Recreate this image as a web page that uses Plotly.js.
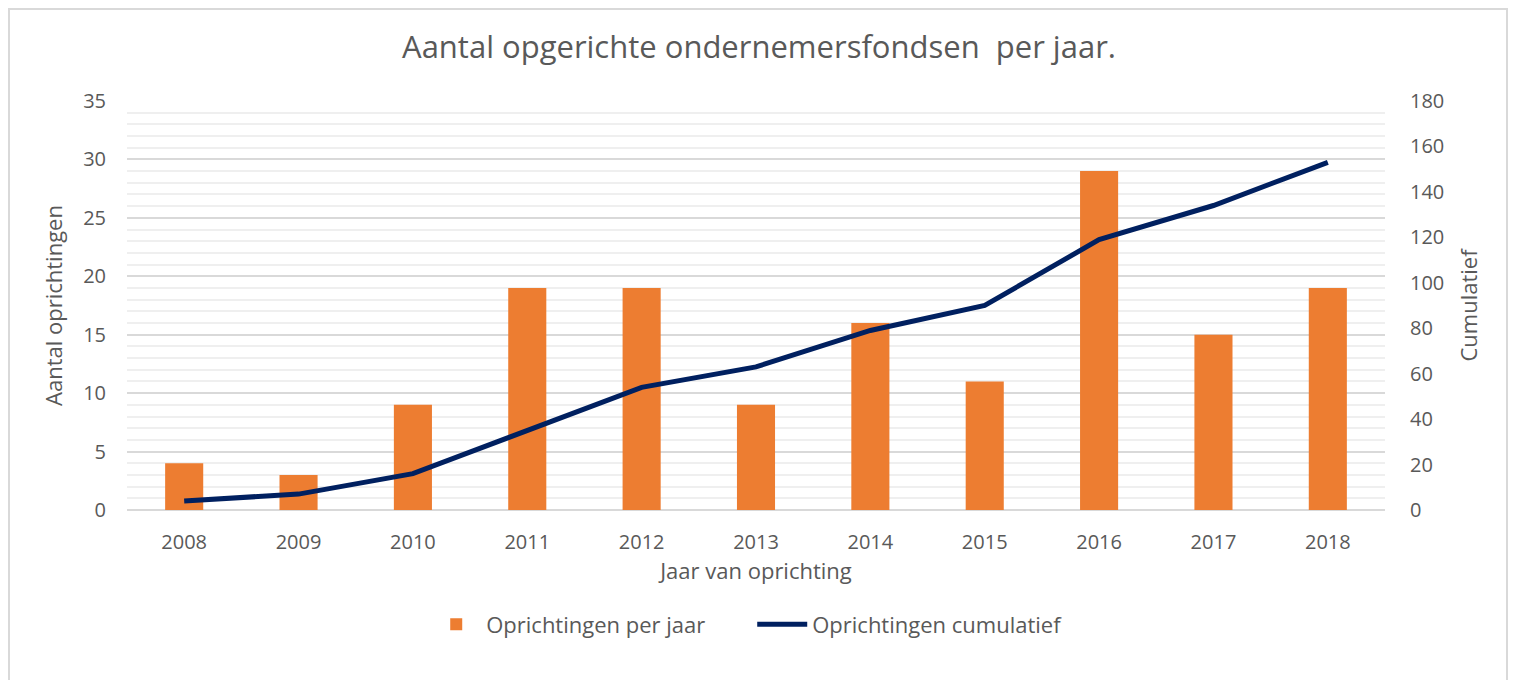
<!DOCTYPE html>
<html><head><meta charset="utf-8">
<script src="https://cdn.plot.ly/plotly-3.0.1.min.js"></script>
<style>
body{margin:0;background:#fff;}
#wrap{position:relative;width:1518px;height:680px;}
#chart{width:1518px;height:680px;}
#frame{position:absolute;left:8px;top:8px;width:1500px;height:680px;border:2px solid #d9d9d9;pointer-events:none;box-sizing:border-box;}
</style></head>
<body><div id="wrap"><div id="chart"></div><div id="frame"></div></div>
<script>
const years = ['2008','2009','2010','2011','2012','2013','2014','2015','2016','2017','2018'];
const perYear = [4,3,9,19,19,9,16,11,29,15,19];
const cumulative = [4,7,16,35,54,63,79,90,119,134,153];
const font = 'Open Sans, sans-serif';
const grey = '#595959';
const data = [
 {type:'bar', x:years, y:perYear, name:'Oprichtingen per jaar', marker:{color:'#ED7D31'}, yaxis:'y'},
 {type:'scatter', mode:'lines', x:years, y:cumulative, name:'Oprichtingen cumulatief', line:{color:'#002060', width:5}, yaxis:'y2'}
];
const layout = {
 width:1518, height:680,
 margin:{l:127, r:133, t:101, b:170},
 paper_bgcolor:'#fff', plot_bgcolor:'#fff',
 font:{family:font, color:grey, size:20},
 title:{text:'Aantal opgerichte ondernemersfondsen  per jaar.', font:{size:31, color:grey, family:font}, x:0.5, xanchor:'center', y:0.93, yanchor:'middle'},
 bargap:0.667,
 showlegend:true,
 legend:{orientation:'h', x:0.497, xanchor:'center', y:-0.28, yanchor:'middle', font:{size:22, color:grey}, itemwidth:50, entrywidth:261},
 xaxis:{type:'category', showgrid:false, showline:false, ticks:'', tickfont:{size:20, color:grey}, ticklabelstandoff:18,
   title:{text:'Jaar van oprichting', font:{size:22, color:grey}, standoff:4}},
 yaxis:{range:[0,35], dtick:5, showgrid:true, gridcolor:'#d9d9d9', gridwidth:2, zeroline:true, zerolinecolor:'#d9d9d9', zerolinewidth:2,
   minor:{dtick:1, showgrid:true, gridcolor:'#efefef', gridwidth:2},
   showline:false, ticks:'', tickfont:{size:20, color:grey}, ticklabelstandoff:20,
   title:{text:'Aantal oprichtingen', font:{size:22, color:grey}, standoff:14}},
 yaxis2:{overlaying:'y', side:'right', range:[0,180], dtick:20, showgrid:false, zeroline:false, showline:false, ticks:'',
   tickfont:{size:20, color:grey}, ticklabelstandoff:24,
   title:{text:'Cumulatief', font:{size:22, color:grey}, standoff:18}}
};
Plotly.newPlot('chart', data, layout, {displayModeBar:false});
</script></body></html>
